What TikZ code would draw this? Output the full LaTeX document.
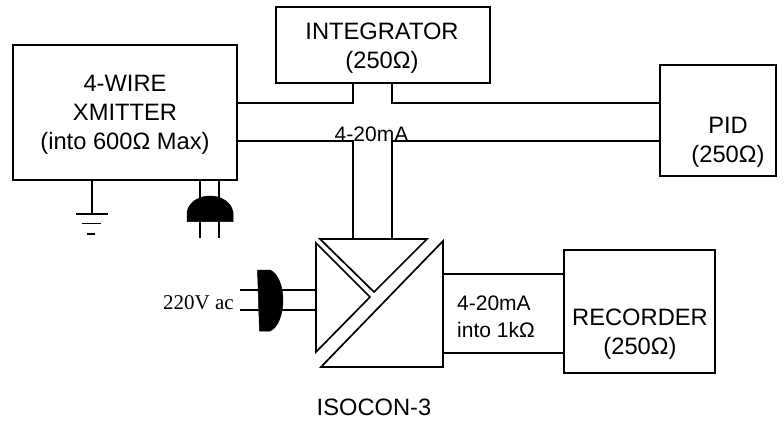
\documentclass[tikz,border=0pt]{standalone}
\usepackage{fontspec}
\setmainfont{Liberation Sans}
\newfontfamily\serifface{Liberation Serif}
\tikzset{
  wire/.style={draw=black,line width=1.7pt},
  blockbox/.style={draw=black,line width=1.7pt,align=center,inner sep=0pt},
  label/.style={align=center,inner sep=0pt,font=\fontsize{23.7}{29}\selectfont},
  plugbody/.style={fill=black,draw=black,line width=0.5pt},
  isoshape/.style={draw=black,line width=1.7pt,line join=miter}
}
\begin{document}
\begin{tikzpicture}[x=1pt,y=-1pt]
\useasboundingbox (0,0) rectangle (784,425);
% boxes
\node[blockbox,minimum width=224pt,minimum height=135pt] (xmit) at (125,112.5) {};
\node[blockbox,minimum width=214pt,minimum height=76pt] (integ) at (383,45) {};
\node[blockbox,minimum width=116pt,minimum height=111pt] (pid) at (718,120.5) {};
\node[blockbox,minimum width=151pt,minimum height=123pt] (rec) at (639.5,311.5) {};
\node[label] (xmitt) at (125,114.5) {4-WIRE\\XMITTER\\(into 600Ω Max)};
\node[label] (integt) at (382,48) {INTEGRATOR\\(250Ω)};
\node[label] (pidt) at (728,142) {PID\\(250Ω)};
\node[label] (rect) at (640,334) {RECORDER\\(250Ω)};
% converter symbol
\coordinate (tl) at (320,239); \coordinate (tr) at (427,239); \coordinate (ta) at (374,292);
\coordinate (ll) at (316,243); \coordinate (lb) at (316,352); \coordinate (la) at (370,297);
\coordinate (rt) at (443,241); \coordinate (rb) at (443,367); \coordinate (rl) at (321,367);
\draw[isoshape] (tl) -- (tr) -- (ta) -- cycle;
\draw[isoshape] (ll) -- (lb) -- (la) -- cycle;
\draw[isoshape] (rt) -- (rb) -- (rl) -- cycle;
% stubs and bus
\coordinate (a1) at (353.3,83); \coordinate (a2) at (353.3,102.8);
\coordinate (b1) at (392,83); \coordinate (b2) at (392,102.8);
\coordinate (c1) at (353.3,141); \coordinate (d1) at (392,141);
\coordinate (c2) at (353.3,239); \coordinate (d2) at (392,239);
\draw[wire] (a1) -- (a2) -- (a2-|xmit.east);
\draw[wire] (b1) -- (b2) -- (b2-|pid.west);
\draw[wire] (c2) -- (c1) -- (c1-|xmit.east);
\draw[wire] (d2) -- (d1) -- (d1-|pid.west);
% output
\coordinate (o1) at (443,274); \coordinate (o2) at (443,353);
\draw[wire] (o1) -- (o1-|rec.west);
\draw[wire] (o2) -- (o2-|rec.west);
% ground
\coordinate (g0) at (92,180); \coordinate (g1) at (92,214);
\coordinate (g2l) at (76,214); \coordinate (g2r) at (108,214);
\coordinate (g3l) at (82,223.5); \coordinate (g3r) at (101,223.5);
\coordinate (g4l) at (87,234); \coordinate (g4r) at (95,234);
\draw[wire] (g0) -- (g1);
\draw[wire] (g2l) -- (g2r);
\draw[wire] (g3l) -- (g3r);
\draw[wire] (g4l) -- (g4r);
% lower plug
\coordinate (p1a) at (200,180); \coordinate (p1b) at (200,238);
\coordinate (p2a) at (219,180); \coordinate (p2b) at (219,238);
\draw[wire] (p1a) -- (p1b);
\draw[wire] (p2a) -- (p2b);
\draw[plugbody] (187,221.5) -- (187,212) .. controls (189,202) and (199,196) .. (210,196) .. controls (221,196) and (231,202) .. (233,212) -- (233,221.5) -- cycle;
% side plug
\coordinate (s1a) at (240,289.8); \coordinate (s1b) at (316,289.8);
\coordinate (s2a) at (240,310); \coordinate (s2b) at (316,310);
\draw[wire] (s1a) -- (s1b);
\draw[wire] (s2a) -- (s2b);
\draw[plugbody] (257.5,270) -- (270,270) .. controls (278,273) and (283,287) .. (283,300) .. controls (283,314) and (278,328) .. (270,331) -- (259.5,331) -- cycle;
% labels
\node[label,font=\fontsize{21}{26}\selectfont] (ma) at (371.5,134) {4-20mA};
\node[label,align=left,font=\fontsize{21}{27}\selectfont] (into) at (496,316.5) {4-20mA\\into 1kΩ};
\node[label] (iso) at (374,407) {ISOCON-3};
\node[inner sep=0pt,font=\serifface\fontsize{21}{24}\selectfont] (v) at (198.5,303) {220V ac};
\end{tikzpicture}
\end{document}
